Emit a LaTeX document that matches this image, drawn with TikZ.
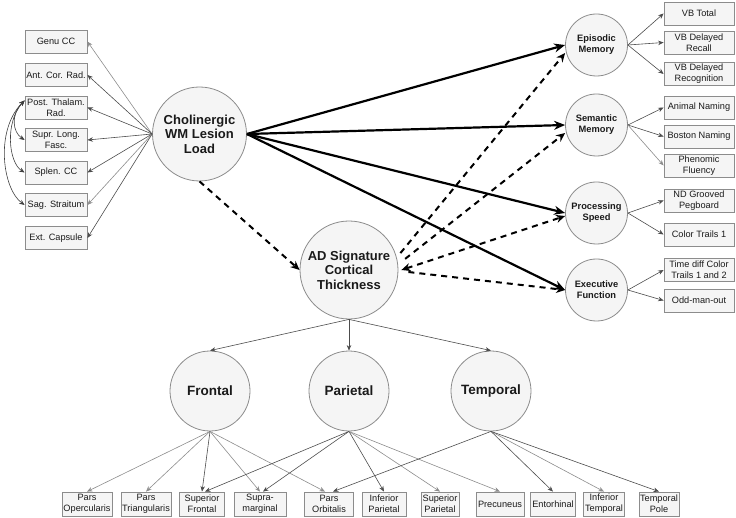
\documentclass[tikz,border=0pt]{standalone}
\usepackage{fontspec}
\setmainfont{Liberation Sans}
\usetikzlibrary{arrows.meta}
\definecolor{boxfill}{HTML}{F5F5F5}
\definecolor{boxline}{HTML}{8C8C8C}
\definecolor{ink}{HTML}{1A1A1A}
\begin{document}
\begin{tikzpicture}[x=1pt,y=-1pt,
  circ/.style={circle, draw=boxline, fill=boxfill, line width=0.8pt, inner sep=0pt, align=center, text=ink},
  bigcirc/.style={circ, font=\fontsize{13}{14.5}\selectfont\bfseries},
  midcirc/.style={circ, minimum size=80pt, font=\fontsize{13.5}{15}\selectfont\bfseries},
  smallcirc/.style={circ, minimum size=62pt, font=\fontsize{9.3}{11}\selectfont\bfseries},
  bx/.style={rectangle, draw=boxline, fill=boxfill, line width=0.8pt, inner sep=1pt, align=center, text=ink, font=\fontsize{9.2}{11}\selectfont},
  lbox/.style={bx, minimum width=62pt, minimum height=23pt},
  rbox/.style={bx, minimum width=70pt, minimum height=23pt},
  bbox/.style={bx, minimum height=24pt},
  thinarrow/.style={-{Stealth[length=5.5pt,width=4.5pt]}, line width=0.6pt, draw=black!70},
  greyarrow/.style={thinarrow, draw=black!45},
  bigarrow/.style={-{Stealth[length=11pt,width=9pt]}, line width=2.2pt, draw=black},
  dasharrow/.style={-{Stealth[length=9pt,width=8pt]}, line width=2pt, dash pattern=on 6pt off 5pt, draw=black},
  covarrow/.style={{Stealth[length=5.5pt,width=4.5pt]}-{Stealth[length=5.5pt,width=4.5pt]}, line width=0.6pt, draw=black!75}
]
\useasboundingbox (0,0) rectangle (736,518);

% main circles
\node[bigcirc, minimum size=94pt] (chol) at (199.5,134) {Cholinergic\\WM Lesion\\Load};
\node[bigcirc, minimum size=98pt] (ad) at (349,270) {AD Signature\\Cortical\\Thickness};

% left boxes
\node[lbox] (genu) at (56,41.5) {Genu CC};
\node[lbox] (acr) at (56,75) {Ant. Cor. Rad.};
\node[lbox] (ptr) at (56,107.5) {Post. Thalam.\\Rad.};
\node[lbox] (slf) at (56,140) {Supr. Long.\\Fasc.};
\node[lbox] (scc) at (56,172.5) {Splen. CC};
\node[lbox] (sag) at (56,205) {Sag. Straitum};
\node[lbox] (ext) at (56,238) {Ext. Capsule};

\draw[greyarrow] (chol.west) -- (genu.east);
\draw[thinarrow] (chol.west) -- (acr.east);
\draw[thinarrow] (chol.west) -- (ptr.east);
\draw[thinarrow] (chol.west) -- (slf.east);
\draw[thinarrow] (chol.west) -- (scc.east);
\draw[greyarrow] (chol.west) -- (sag.east);
\draw[thinarrow] (chol.west) -- (ext.east);

% covariances
\coordinate (ptrw) at ([yshift=7pt]ptr.west);
\draw[covarrow] (ptrw) .. controls +(-14,14) and +(-12,-8) .. (slf.west);
\draw[covarrow] (ptrw) .. controls +(-20,22) and +(-16,-10) .. (scc.west);
\draw[covarrow] (ptrw) .. controls +(-30,30) and +(-22,-16) .. (sag.west);

% right circles
\node[smallcirc] (epi) at (596.5,45) {Episodic\\Memory};
\node[smallcirc] (sem) at (596.5,125) {Semantic\\Memory};
\node[smallcirc] (proc) at (596.5,213) {Processing\\Speed};
\node[smallcirc] (exe) at (596.5,290) {Executive\\Function};

% right boxes
\node[rbox] (vbt) at (699,13.5) {VB Total};
\node[rbox] (vbr) at (699,42.5) {VB Delayed\\Recall};
\node[rbox] (vbg) at (699,74) {VB Delayed\\Recognition};
\node[rbox] (ani) at (699,107.5) {Animal Naming};
\node[rbox] (bos) at (699,136.5) {Boston Naming};
\node[rbox] (phe) at (699,165.5) {Phenomic\\Fluency};
\node[rbox] (ndg) at (699,200.5) {ND Grooved\\Pegboard};
\node[rbox] (ct1) at (699,234.5) {Color Trails 1};
\node[rbox] (tdc) at (699,270) {Time diff Color\\Trails 1 and 2};
\node[rbox] (omo) at (699,300.5) {Odd-man-out};

\draw[thinarrow] (epi.east) -- (vbt.west);
\draw[thinarrow] (epi.east) -- (vbr.west);
\draw[thinarrow] (epi.east) -- (vbg.west);
\draw[thinarrow] (sem.east) -- (ani.west);
\draw[thinarrow] (sem.east) -- (bos.west);
\draw[greyarrow] (sem.east) -- (phe.west);
\draw[thinarrow] (proc.east) -- (ndg.west);
\draw[thinarrow] (proc.east) -- (ct1.west);
\draw[thinarrow] (exe.east) -- (tdc.west);
\draw[thinarrow] (exe.east) -- (omo.west);

% thick paths
\draw[bigarrow] (chol.east) -- (epi.west);
\draw[bigarrow] (chol.east) -- (sem.west);
\draw[bigarrow] (chol.east) -- (proc.west);
\draw[bigarrow] (chol.east) -- (exe.west);

% dashed paths
\draw[dasharrow] (chol.south) -- (ad.west);
\draw[dasharrow] ([xshift=5pt]ad.20) -- ([yshift=-8pt]epi.west);
\draw[dasharrow] ([xshift=8pt]ad.13) -- ([yshift=-8pt]sem.west);
\draw[dasharrow, {Stealth[length=9pt,width=8pt]}-{Stealth[length=9pt,width=8pt]}] ([xshift=3pt]ad.east) -- ([yshift=-3pt]proc.west);
\draw[dasharrow] ([xshift=10pt,yshift=-2pt]ad.east) -- (exe.west);

% lower circles
\node[midcirc] (fro) at (210,391) {Frontal};
\node[midcirc] (par) at (349,391) {Parietal};
\node[midcirc] (tem) at (491,391) {Temporal};

\draw[thinarrow] (ad.south) -- (fro.north);
\draw[thinarrow] (ad.south) -- (par.north);
\draw[thinarrow] (ad.south) -- (tem.north);

% bottom boxes
\node[bbox, minimum width=50pt] (po) at (87,504) {Pars\\Opercularis};
\node[bbox, minimum width=50pt] (pt) at (146,504) {Pars\\Triangularis};
\node[bbox, minimum width=45pt] (sf) at (202,504) {Superior\\Frontal};
\node[bbox, minimum width=52pt] (sm) at (260,504) {Supra-\\marginal};
\node[bbox, minimum width=49pt] (por) at (329,504) {Pars\\Orbitalis};
\node[bbox, minimum width=44pt] (ip) at (384,504) {Inferior\\Parietal};
\node[bbox, minimum width=38pt] (sp) at (440,504) {Superior\\Parietal};
\node[bbox, minimum width=48pt] (pc) at (500,504) {Precuneus};
\node[bbox, minimum width=45pt] (en) at (553,504) {Entorhinal};
\node[bbox, minimum width=41pt] (it) at (604,504) {Inferior\\Temporal};
\node[bbox, minimum width=40pt] (tp) at (659,504) {Temporal\\Pole};

\draw[greyarrow] (fro.south) -- (po.north);
\draw[greyarrow] (fro.south) -- (pt.north);
\draw[thinarrow] (fro.south) -- (sf.north);
\draw[greyarrow] (fro.south) -- (sm.north);
\draw[greyarrow] (fro.south) -- ([xshift=-4pt]por.north);

\draw[thinarrow] (par.south) -- ([xshift=3pt]sf.north);
\draw[thinarrow] (par.south) -- ([xshift=3pt]sm.north);
\draw[thinarrow] (par.south) -- (ip.north);
\draw[greyarrow] (par.south) -- (sp.north);
\draw[greyarrow] (par.south) -- (pc.north);

\draw[thinarrow] (tem.south) -- ([xshift=4pt]por.north);
\draw[thinarrow] (tem.south) -- (en.north);
\draw[greyarrow] (tem.south) -- (it.north);
\draw[thinarrow] (tem.south) -- (tp.north);
\end{tikzpicture}
\end{document}
